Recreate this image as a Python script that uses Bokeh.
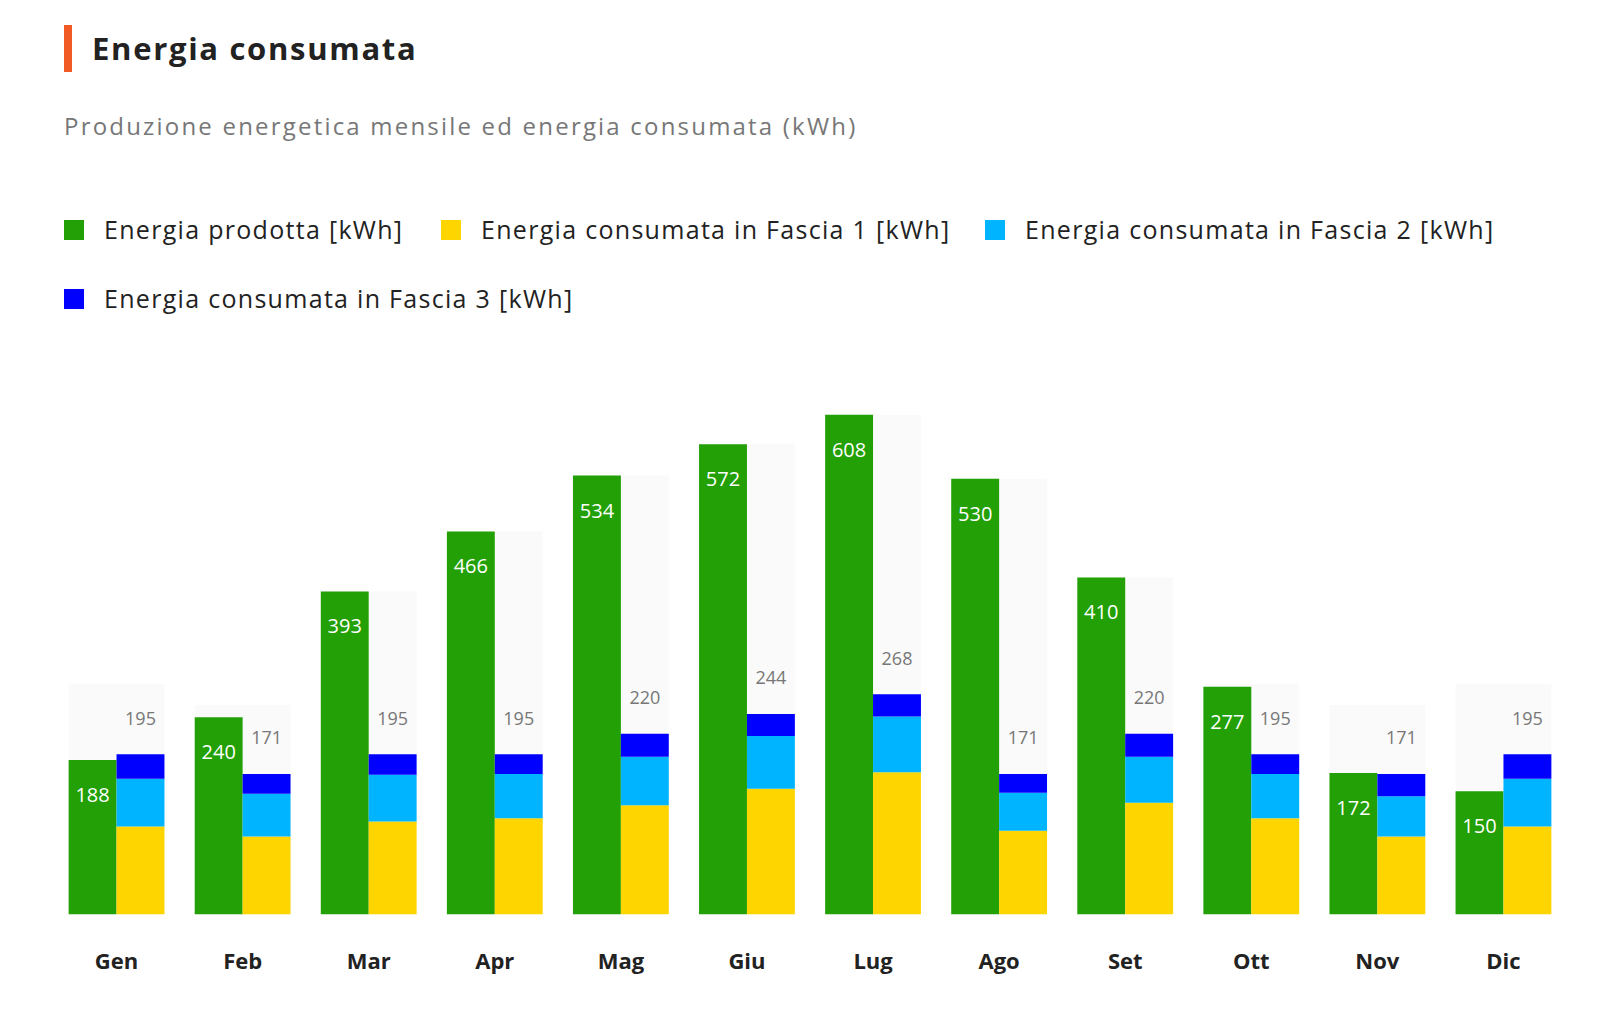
from bokeh.plotting import figure
from bokeh.models import ColumnDataSource, Div, FixedTicker, Range1d
from bokeh.layouts import column
from bokeh.core.properties import value
from bokeh.embed import file_html
from bokeh.resources import INLINE

months = ["Gen","Feb","Mar","Apr","Mag","Giu","Lug","Ago","Set","Ott","Nov","Dic"]
prodotta = [188,240,393,466,534,572,608,530,410,277,172,150]
fascia1 = [107,95,113,117,133,153,173,102,136,117,95,107]
fascia2 = [58,52,57,54,59,64,68,46,56,54,49,58]
fascia3 = [30,24,25,24,28,27,27,23,28,24,27,30]
totale = [195,171,195,195,220,244,268,171,220,195,171,195]
sfondo = [280,255,393,466,534,572,608,530,410,280,255,280]

FONT = "Open Sans"
n = len(months)
xc = [i + 0.5 for i in range(n)]
xp = [x - 0.19 for x in xc]
xk = [x + 0.19 for x in xc]
b1 = fascia1
b2 = [a + b for a, b in zip(fascia1, fascia2)]
b3 = [a + b for a, b in zip(b2, fascia3)]

src = ColumnDataSource(dict(xc=xc, xp=xp, xk=xk, prod=prodotta, f1=b1, f2=b2, f3=b3,
                            tot=totale, bg=sfondo,
                            prodl=[str(v) for v in prodotta], totl=[str(v) for v in totale]))

p = figure(width=1600, height=671, output_backend="svg", toolbar_location=None,
           x_range=Range1d(0, 12), y_range=Range1d(0, 635),
           min_border_left=53, min_border_right=34, min_border_top=49, min_border_bottom=100)
p.outline_line_color = None
p.grid.visible = False
p.yaxis.visible = False
p.background_fill_color = "white"

p.vbar(x="xc", top="bg", bottom=0, width=0.76, source=src, fill_color="#fafafa", line_color=None)
p.vbar(x="xp", top="prod", bottom=0, width=0.38, source=src, fill_color="#22a005", line_color=None)
p.vbar(x="xk", top="f1", bottom=0, width=0.38, source=src, fill_color="#ffd500", line_color=None)
p.vbar(x="xk", top="f2", bottom="f1", width=0.38, source=src, fill_color="#00b4ff", line_color=None)
p.vbar(x="xk", top="f3", bottom="f2", width=0.38, source=src, fill_color="#0000ff", line_color=None)
p.text(x="xp", y="prod", text="prodl", source=src, y_offset=35, text_align="center",
       text_baseline="middle", text_color="white", text_font=value(FONT), text_font_size="20px")
p.text(x="xk", y="f3", text="totl", source=src, y_offset=-36, text_align="center",
       text_baseline="middle", text_color="#777777", text_font=value(FONT), text_font_size="18px")

ax = p.xaxis[0]
ax.ticker = FixedTicker(ticks=xc)
ax.major_label_overrides = {x: m for x, m in zip(xc, months)}
ax.axis_line_color = None
ax.major_tick_line_color = None
ax.minor_tick_line_color = None
ax.major_label_text_font = FONT
ax.major_label_text_font_style = "bold"
ax.major_label_text_font_size = "22px"
ax.major_label_text_color = "#222222"
ax.major_label_standoff = 24

def item(color, label, left, top):
    return (f'<div style="position:absolute;left:{left}px;top:{top}px;width:20px;height:20px;background:{color}"></div>'
            f'<div style="position:absolute;left:{left+40}px;top:{top-8}px;font-size:25px;letter-spacing:1.3px;color:#222;white-space:nowrap">{label}</div>')

html = (f'<div style="position:relative;width:1600px;height:333px;font-family:\'{FONT}\',sans-serif">'
        '<div style="position:absolute;left:59px;top:20px;width:8px;height:47px;background:#f15a24"></div>'
        '<div style="position:absolute;left:87px;top:21px;font-size:31px;letter-spacing:1.7px;font-weight:bold;color:#222;white-space:nowrap">Energia consumata</div>'
        '<div style="position:absolute;left:59px;top:104px;font-size:24px;letter-spacing:2.2px;color:#777;white-space:nowrap">Produzione energetica mensile ed energia consumata (kWh)</div>'
        + item("#22a005", "Energia prodotta [kWh]", 59, 215)
        + item("#ffd500", "Energia consumata in Fascia 1 [kWh]", 436, 215)
        + item("#00b4ff", "Energia consumata in Fascia 2 [kWh]", 980, 215)
        + item("#0000ff", "Energia consumata in Fascia 3 [kWh]", 59, 284)
        + '</div>')
d = Div(text=html, width=1600, height=333)

layout = column(d, p, spacing=0)
open("out.html", "w").write(file_html(layout, INLINE))
